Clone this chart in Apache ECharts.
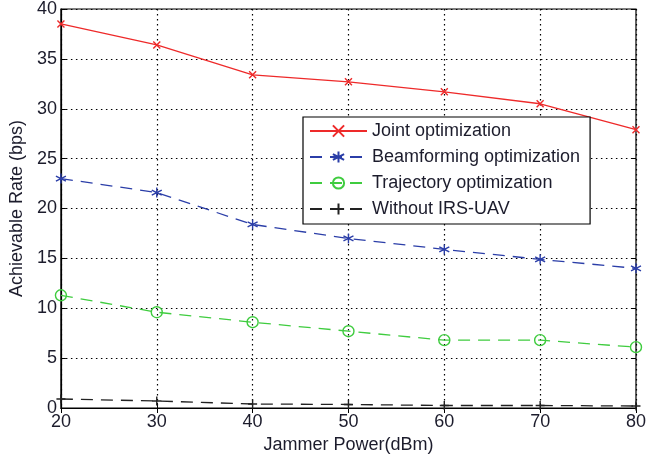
<!DOCTYPE html>
<html>
<head>
<meta charset="utf-8">
<script src="https://cdn.jsdelivr.net/npm/echarts@6/dist/echarts.min.js"></script>
<style>
  html, body { margin: 0; padding: 0; background: #fff; }
  #chart { width: 649px; height: 459px; }
</style>
</head>
<body>
<div id="chart"></div>
<script>
// jammer power on x axis
const powers = [20, 30, 40, 50, 60, 70, 80]
// achievable rate
const joint = [38.5, 36.4, 33.4, 32.7, 31.7, 30.5, 27.9]
const beamforming = [23.0, 21.6, 18.4, 17.0, 15.9, 14.9, 14.0]
const trajectory = [11.3, 9.6, 8.6, 7.7, 6.8, 6.8, 6.1]
const withoutIrs = [0.9, 0.7, 0.4, 0.35, 0.25, 0.25, 0.2]
const seriesNames = ['Joint optimization', 'Beamforming optimization', 'Trajectory optimization', 'Without IRS-UAV']

const font = 'Liberation Sans, Arial, sans-serif'
const textColor = '#1c1c2c'

// marker shapes drawn as strokes
const crossPath = 'path://M0,0 L10,10 M10,0 L0,10'
const starPath = 'path://M5,0 L5,10 M0.7,2.5 L9.3,7.5 M0.7,7.5 L9.3,2.5'
const plusPath = 'path://M5,0 L5,10 M0,5 L10,5'

function toPairs(vals) {
  return vals.map((v, i) => [powers[i], v])
}

function makeSeries(name, vals, color, symbol, size, dash) {
  return {
    name: name,
    type: 'line',
    data: toPairs(vals),
    symbol: symbol,
    symbolSize: size,
    showAllSymbol: true,
    lineStyle: { color: color, width: 1.3, type: dash },
    itemStyle: { color: 'rgba(0,0,0,0)', borderColor: color, borderWidth: 1.4 },
    emphasis: { disabled: true },
    z: 3
  }
}

const chart = echarts.init(document.getElementById('chart'))

const option = {
  animation: false,
  backgroundColor: '#fff',
  grid: {
    left: 57, right: 11, top: 8, bottom: 51,
    show: true, borderColor: '#000', borderWidth: 1.2
  },
  legend: {
    orient: 'vertical',
    left: 303, top: 117,
    padding: [5, 10, 6, 6],
    itemWidth: 57, itemHeight: 14, itemGap: 8,
    backgroundColor: '#fff',
    borderColor: '#000', borderWidth: 1.2,
    textStyle: { fontFamily: font, fontSize: 18, color: textColor },
    data: seriesNames
  },
  xAxis: [{
    type: 'value',
    min: 20, max: 80, interval: 10,
    name: 'Jammer Power(dBm)',
    nameLocation: 'middle', nameGap: 28,
    nameTextStyle: { fontFamily: font, fontSize: 18, color: textColor },
    axisLine: { show: true, onZero: false, lineStyle: { color: '#000', width: 1.2 } },
    axisTick: { inside: true, length: 5, lineStyle: { color: '#000' } },
    axisLabel: { fontFamily: font, fontSize: 18, color: textColor, margin: 5 },
    splitLine: { show: true, lineStyle: { color: '#000', type: [1.5, 3.5], width: 1.2 } }
  }, {
    type: 'value', position: 'top',
    min: 20, max: 80, interval: 10,
    axisLine: { show: false },
    axisTick: { inside: true, length: 5, lineStyle: { color: '#000' } },
    axisLabel: { show: false },
    splitLine: { show: false }
  }],
  yAxis: [{
    type: 'value',
    min: 0, max: 40, interval: 5,
    name: 'Achievable Rate (bps)',
    nameLocation: 'middle', nameGap: 30,
    nameTextStyle: { fontFamily: font, fontSize: 18, color: textColor },
    axisLine: { show: true, onZero: false, lineStyle: { color: '#000', width: 1.2 } },
    axisTick: { inside: true, length: 5, lineStyle: { color: '#000' } },
    axisLabel: { fontFamily: font, fontSize: 18, color: textColor, margin: 4 },
    splitLine: { show: true, lineStyle: { color: '#000', type: [1.5, 3.5], width: 1.2 } }
  }, {
    type: 'value', position: 'right',
    min: 0, max: 40, interval: 5,
    axisLine: { show: false },
    axisTick: { inside: true, length: 5, lineStyle: { color: '#000' } },
    axisLabel: { show: false },
    splitLine: { show: false }
  }],
  series: [
    makeSeries(seriesNames[0], joint, '#ee2a2a', crossPath, 7, 'solid'),
    makeSeries(seriesNames[1], beamforming, '#2b3ea8', starPath, 10, [12, 8]),
    makeSeries(seriesNames[2], trajectory, '#3fcc3f', 'circle', 11, [12, 8]),
    makeSeries(seriesNames[3], withoutIrs, '#222', plusPath, 9, [12, 8])
  ]
}

chart.setOption(option)
</script>
</body>
</html>
